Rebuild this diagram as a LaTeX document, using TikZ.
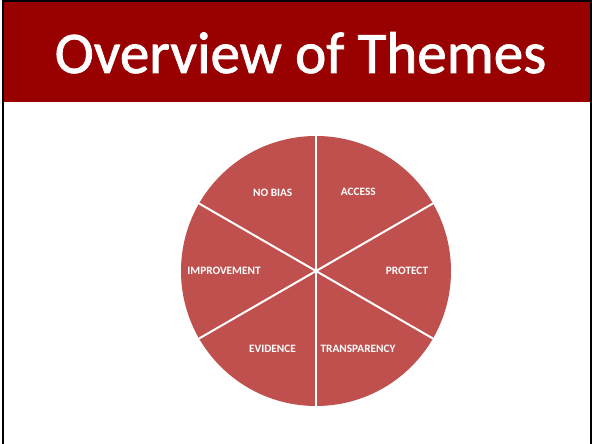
\documentclass[tikz,border=0pt]{standalone}
\usepackage{fontspec}
\usetikzlibrary{calc}
\setmainfont{Carlito}
\newfontfamily\titlefont{Carlito}[FakeBold=1.3]
\definecolor{banner}{HTML}{990000}
\definecolor{piefill}{HTML}{C0504D}
\tikzset{
  sector label/.style={text=white, font=\fontsize{11.3}{13}\selectfont\bfseries, inner sep=0pt},
  divider/.style={draw=white, line width=2pt},
  titletext/.style={text=white, font=\titlefont\fontsize{59}{60}\selectfont, inner sep=0pt, anchor=base}
}
\begin{document}
\begin{tikzpicture}[x=1pt,y=-1pt]
\useasboundingbox (0,0) rectangle (592,444);
\fill[white] (0,0) rectangle (592,444);
% frame
\fill[black] (2,0) rectangle (592,2);
\fill[black] (2,0) rectangle (4,444);
\fill[black] (590,0) rectangle (592,444);
% banner
\fill[banner] (4,2) rectangle (590,101.5);
\node[titletext] (title) at (300.5,73) {Overview of Themes};
% pie
\coordinate (c) at (316,271);
\fill[piefill] (c) circle[radius=135];
\foreach \a in {90,30,-30,-90,210,150}
  \draw[divider] (c) -- ($(c)+(\a:135)$);
\node[sector label] (nobias) at (272.7,192.7) {NO BIAS};
\node[sector label] (access) at (358.3,192.3) {ACCESS};
\node[sector label] (improvement) at (224,271) {IMPROVEMENT};
\node[sector label] (protect) at (407,271) {PROTECT};
\node[sector label] (evidence) at (272.5,349.3) {EVIDENCE};
\node[sector label] (transparency) at (358,349.3) {TRANSPARENCY};
\end{tikzpicture}
\end{document}
